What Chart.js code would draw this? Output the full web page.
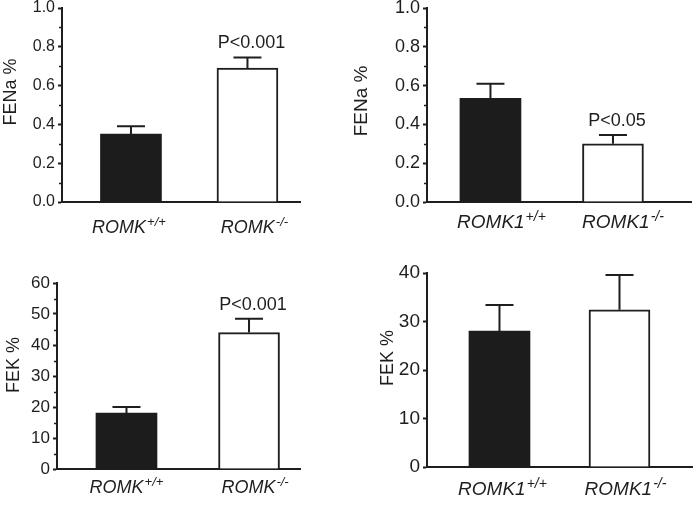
<!DOCTYPE html>
<html>
<head>
<meta charset="utf-8">
<script src="https://cdn.jsdelivr.net/npm/chart.js@4/dist/chart.umd.min.js"></script>
<style>
  html, body { margin: 0; padding: 0; background: #fff; overflow: hidden; }
  body { width: 693px; height: 506px; position: relative; }
  canvas { position: absolute; }
  #fenaA { left: 0; top: -12px; }
  #fenaB { left: 346px; top: -12px; }
  #fekA { left: 0; top: 250px; }
  #fekB { left: 346px; top: 250px; }
</style>
</head>
<body>
<canvas id="fenaA" width="346" height="262"></canvas>
<canvas id="fenaB" width="347" height="262"></canvas>
<canvas id="fekA" width="346" height="256"></canvas>
<canvas id="fekB" width="347" height="256"></canvas>
<script>
// genotype labels
const genotypesRomk = ["ROMK", "ROMK"];
const genotypesRomk1 = ["ROMK1", "ROMK1"];
const superscripts = ["+/+", "-/-"];

// FENa % (mean, SE)
const fenaRomk = [0.35, 0.69];
const fenaRomkErr = [0.04, 0.055];
const fenaRomk1 = [0.535, 0.3];
const fenaRomk1Err = [0.075, 0.045];

// FEK % (mean, SE)
const fekRomk = [18, 44];
const fekRomkErr = [2, 4.5];
const fekRomk1 = [28, 32.4];
const fekRomk1Err = [5.4, 7.2];

// significance labels
const pFenaRomk = ["", "P<0.001"];
const pFenaRomk1 = ["", "P<0.05"];
const pFekRomk = ["", "P<0.001"];
const pFekRomk1 = ["", ""];

// y axis ticks
const fenaTicks = { max: 1.0, step: 0.2, minor: 0.1, decimals: 1 };
const fekRomkTicks = { max: 60, step: 10, minor: 5, decimals: 0 };
const fekRomk1Ticks = { max: 40, step: 10, minor: 0, decimals: 0 };

const INK = "#1e1e1e";
const FONT = "'Liberation Sans', Arial, sans-serif";

const extrasPlugin = {
  id: "extras",
  afterDraw(chart) {
    const p = chart.options.plugins.extras;
    const ctx = chart.ctx;
    const xs = chart.scales.x;
    const ys = chart.scales.y;
    const area = chart.chartArea;
    const meta = chart.getDatasetMeta(0);
    ctx.save();
    ctx.strokeStyle = INK;
    ctx.fillStyle = INK;
    ctx.lineWidth = 2;

    // error bars + p values
    meta.data.forEach((bar, i) => {
      const top = ys.getPixelForValue(p.values[i] + p.errors[i]);
      ctx.beginPath();
      ctx.moveTo(bar.x, bar.y);
      ctx.lineTo(bar.x, top);
      ctx.moveTo(bar.x - 14, top);
      ctx.lineTo(bar.x + 14, top);
      ctx.stroke();
      if (p.pvals[i]) {
        ctx.font = p.pFont + "px " + FONT;
        ctx.textAlign = "center";
        ctx.textBaseline = "alphabetic";
        ctx.fillText(p.pvals[i], bar.x + 4, top - 9);
      }
    });

    // category labels with superscripts
    p.labels.forEach((lab, i) => {
      const cx = xs.getPixelForValue(i) + p.labelShift[i];
      const by = area.bottom + p.labelOffset;
      const supSize = Math.round(p.labelFont * 0.72);
      ctx.font = "italic " + p.labelFont + "px " + FONT;
      const wMain = ctx.measureText(lab).width;
      ctx.font = "italic " + supSize + "px " + FONT;
      const wSup = ctx.measureText(p.sup[i]).width;
      const x0 = cx - (wMain + wSup + 1) / 2;
      ctx.textAlign = "left";
      ctx.textBaseline = "alphabetic";
      ctx.font = "italic " + p.labelFont + "px " + FONT;
      ctx.fillText(lab, x0, by);
      ctx.font = "italic " + supSize + "px " + FONT;
      ctx.fillText(p.sup[i], x0 + wMain + 1, by - p.labelFont * 0.38);
    });

    // minor ticks
    if (p.minor) {
      ctx.lineWidth = 1.5;
      for (let v = p.minor; v < ys.max; v += p.step) {
        const y = Math.round(ys.getPixelForValue(v)) + 0.5;
        ctx.beginPath();
        ctx.moveTo(area.left - 3, y);
        ctx.lineTo(area.left, y);
        ctx.stroke();
      }
    }

    // y title
    ctx.font = p.titleFont + "px " + FONT;
    ctx.textAlign = "center";
    ctx.textBaseline = "middle";
    ctx.translate(p.titlePos[0], p.titlePos[1]);
    ctx.rotate(-Math.PI / 2);
    ctx.fillText(p.title, 0, 0);
    ctx.restore();
  },
};

function makePanel(id, cfg) {
  const ctx = document.getElementById(id).getContext("2d");
  return new Chart(ctx, {
    type: "bar",
    data: {
      datasets: [
        {
          data: cfg.values.map((v, i) => ({ x: i, y: v })),
          backgroundColor: ["#1c1c1c", "#ffffff"],
          borderColor: INK,
          borderWidth: [0, 2],
          borderSkipped: "bottom",
          barThickness: 61,
        },
      ],
    },
    plugins: [extrasPlugin],
    options: {
      responsive: false,
      animation: false,
      devicePixelRatio: 1,
      layout: { padding: cfg.padding },
      plugins: {
        legend: { display: false },
        tooltip: { enabled: false },
        extras: cfg,
      },
      scales: {
        x: {
          type: "linear",
          offset: false,
          min: cfg.xMin,
          max: cfg.xMax,
          ticks: { display: false },
          grid: { display: false },
          border: { color: INK, width: 2 },
          afterFit: (s) => { s.height = 0; },
        },
        y: {
          min: 0,
          max: cfg.ticks.max,
          ticks: {
            stepSize: cfg.ticks.step,
            color: INK,
            padding: 3,
            font: { family: FONT, size: cfg.tickFont },
            callback: (v) => Number(v).toFixed(cfg.ticks.decimals),
          },
          grid: {
            drawOnChartArea: false,
            drawTicks: true,
            tickLength: 4,
            tickColor: INK,
            tickWidth: 2,
          },
          border: { color: INK, width: 2 },
          afterFit: (s) => { s.width = cfg.yWidth; },
        },
      },
    },
  });
}

makePanel("fenaA", {
  labels: genotypesRomk, sup: superscripts, labelShift: [-2, 7],
  values: fenaRomk, errors: fenaRomkErr, pvals: pFenaRomk,
  ticks: fenaTicks, step: fenaTicks.step, minor: fenaTicks.minor,
  title: "FENa %", titlePos: [11, 104], titleFont: 18,
  tickFont: 16, labelFont: 18, labelOffset: 31, pFont: 18,
  xMin: -0.592, xMax: 1.451, yWidth: 62,
  padding: { top: 20, left: 0, right: 46, bottom: 48 },
});

makePanel("fenaB", {
  labels: genotypesRomk1, sup: superscripts, labelShift: [11, 10],
  values: fenaRomk1, errors: fenaRomk1Err, pvals: pFenaRomk1,
  ticks: fenaTicks, step: fenaTicks.step, minor: fenaTicks.minor,
  title: "FENa %", titlePos: [16, 113], titleFont: 19,
  tickFont: 18, labelFont: 19, labelOffset: 26, pFont: 18,
  xMin: -0.518, xMax: 1.637, yWidth: 81,
  padding: { top: 20, left: 0, right: 2, bottom: 48 },
});

makePanel("fekA", {
  labels: genotypesRomk, sup: superscripts, labelShift: [0, 6],
  values: fekRomk, errors: fekRomkErr, pvals: pFekRomk,
  ticks: fekRomkTicks, step: fekRomkTicks.step, minor: fekRomkTicks.minor,
  title: "FEK %", titlePos: [14, 115], titleFont: 18,
  tickFont: 17, labelFont: 18, labelOffset: 24, pFont: 18,
  xMin: -0.567, xMax: 1.416, yWidth: 57,
  padding: { top: 33, left: 0, right: 46, bottom: 37 },
});

makePanel("fekB", {
  labels: genotypesRomk1, sup: superscripts, labelShift: [3, 6],
  values: fekRomk1, errors: fekRomk1Err, pvals: pFekRomk1,
  ticks: fekRomk1Ticks, step: fekRomk1Ticks.step, minor: fekRomk1Ticks.minor,
  title: "FEK %", titlePos: [42, 108], titleFont: 18,
  tickFont: 19, labelFont: 19, labelOffset: 28, pFont: 18,
  xMin: -0.604, xMax: 1.6125, yWidth: 81,
  padding: { top: 23, left: 0, right: 0, bottom: 39 },
});
</script>
</body>
</html>
